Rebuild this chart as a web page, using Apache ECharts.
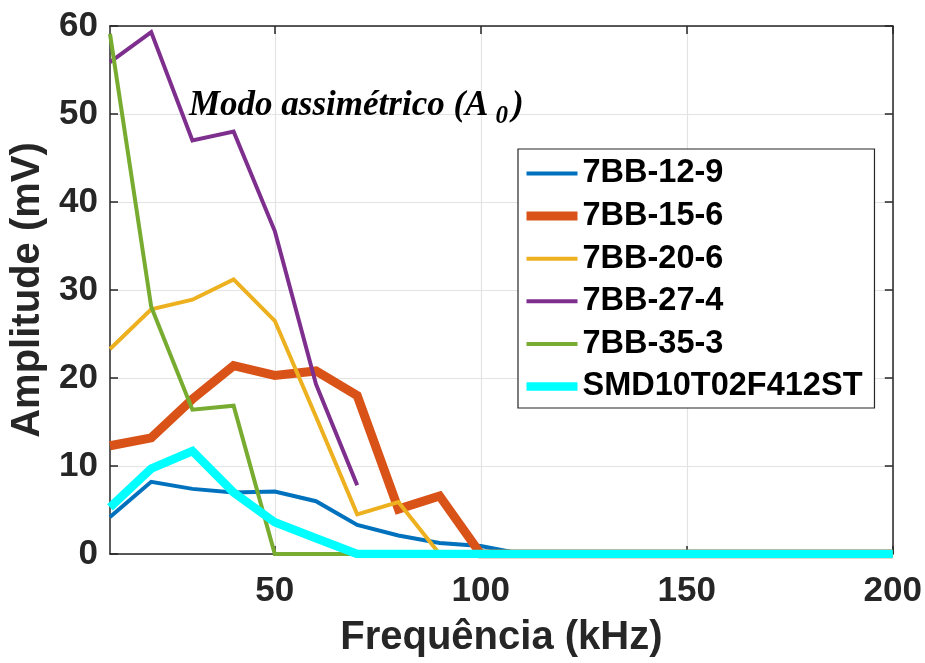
<!DOCTYPE html>
<html>
<head>
<meta charset="utf-8">
<script src="https://cdn.jsdelivr.net/npm/echarts@6/dist/echarts.min.js"></script>
<style>
  html, body { margin: 0; padding: 0; background: #fff; }
  #chart { width: 925px; height: 663px; }
</style>
</head>
<body>
<div id="chart"></div>
<script>
// Frequency sweep (kHz)
const frequencies = [10, 20, 30, 40, 50, 60, 70, 80, 90, 100, 110, 120, 130, 140, 150, 160, 170, 180, 190, 200];
const xTickValues = [50, 100, 150, 200];

// Amplitude (mV) per transducer
const s7BB_12_9 = [4.2, 8.2, 7.4, 7.0, 7.1, 6.0, 3.3, 2.1, 1.25, 0.9, 0, 0, 0, 0, 0, 0, 0, 0, 0, 0];
const s7BB_15_6 = [12.3, 13.2, 17.6, 21.4, 20.3, 20.8, 18.0, 5.1, 6.6, 0, 0, 0, 0, 0, 0, 0, 0, 0, 0, 0];
const s7BB_20_6 = [23.3, 27.8, 28.9, 31.2, 26.5, 15.6, 4.5, 5.9, 0, 0, 0, 0, 0, 0, 0, 0, 0, 0, 0, 0];
const s7BB_27_4 = [55.9, 59.3, 47.0, 48.0, 36.7, 19.3, 7.8];
const s7BB_35_3 = [59.1, 28.1, 16.4, 16.85, 0, 0, 0, 0, 0, 0, 0, 0, 0, 0, 0, 0, 0, 0, 0, 0];
const sSMD10T02F412ST = [5.3, 9.7, 11.7, 7.0, 3.6, 1.8, 0, 0, 0, 0, 0, 0, 0, 0, 0, 0, 0, 0, 0, 0];

const seriesDefs = [
  { name: '7BB-12-9', values: s7BB_12_9, color: '#0072BD', width: 4 },
  { name: '7BB-15-6', values: s7BB_15_6, color: '#D95319', width: 9 },
  { name: '7BB-20-6', values: s7BB_20_6, color: '#EDB120', width: 4 },
  { name: '7BB-27-4', values: s7BB_27_4, color: '#7E2F8E', width: 4 },
  { name: '7BB-35-3', values: s7BB_35_3, color: '#77AC30', width: 4 },
  { name: 'SMD10T02F412ST', values: sSMD10T02F412ST, color: '#00FFFF', width: 8.5 }
];

const axisColor = '#262626';
const gridColor = '#e3e3e3';
const fontFamily = '"Liberation Sans", Arial, sans-serif';
const serifFamily = '"Liberation Serif", "Times New Roman", serif';

const chart = echarts.init(document.getElementById('chart'), null, { renderer: 'canvas' });

const series = seriesDefs.map(d => ({
  name: d.name,
  type: 'line',
  data: d.values.map((v, i) => [frequencies[i], v]),
  showSymbol: false,
  symbol: 'none',
  animation: false,
  lineStyle: { color: d.color, width: d.width, join: 'miter' },
  itemStyle: { color: d.color },
  clip: true
}));

const option = {
  backgroundColor: '#fff',
  animation: false,
  grid: { left: 109, right: 32, top: 26, bottom: 108, containLabel: false },
  title: {
    text: '{a|Modo assimétrico (A}{s|0}{a|)}',
    left: 184,
    top: 77,
    textStyle: {
      rich: {
        a: { fontFamily: serifFamily, fontStyle: 'italic', fontWeight: 'bold', fontSize: 35, color: '#000' },
        s: { fontFamily: serifFamily, fontStyle: 'italic', fontWeight: 'bold', fontSize: 25, color: '#000', padding: [22, 4, 0, 7] }
      }
    }
  },
  legend: {
    show: true,
    orient: 'vertical',
    left: 518,
    top: 149,
    padding: [8, 12, 5, 4],
    backgroundColor: '#fff',
    borderColor: axisColor,
    borderWidth: 1.2,
    itemWidth: 51,
    itemHeight: 14,
    itemGap: 9.6,
    textStyle: { fontFamily: fontFamily, fontWeight: 'bold', fontSize: 32.5, color: '#000' },
    data: seriesDefs.map(d => ({
      name: d.name,
      lineStyle: { width: d.width, color: d.color },
      itemStyle: { opacity: 0 }
    }))
  },
  xAxis: [
    {
      type: 'value',
      min: 10,
      max: 200,
      name: 'Frequência (kHz)',
      nameLocation: 'middle',
      nameGap: 64,
      nameTextStyle: { fontFamily: fontFamily, fontWeight: 'bold', fontSize: 40, color: axisColor },
      axisLine: { show: true, onZero: false, lineStyle: { color: axisColor, width: 1.5 } },
      axisTick: { show: true, inside: true, length: 8, customValues: xTickValues, lineStyle: { color: axisColor, width: 1.5 } },
      axisLabel: { show: true, customValues: xTickValues, margin: 20, fontFamily: fontFamily, fontWeight: 'bold', fontSize: 35, color: axisColor },
      splitLine: { show: true, customValues: xTickValues, lineStyle: { color: gridColor, width: 1.2 } }
    },
    {
      type: 'value',
      position: 'top',
      min: 10,
      max: 200,
      axisLine: { show: true, onZero: false, lineStyle: { color: axisColor, width: 1.5 } },
      axisTick: { show: true, inside: true, length: 8, customValues: xTickValues, lineStyle: { color: axisColor, width: 1.5 } },
      axisLabel: { show: false },
      splitLine: { show: false }
    }
  ],
  yAxis: [
    {
      type: 'value',
      min: 0,
      max: 60,
      interval: 10,
      name: 'Amplitude (mV)',
      nameLocation: 'middle',
      nameGap: 62,
      nameTextStyle: { fontFamily: fontFamily, fontWeight: 'bold', fontSize: 40, color: axisColor },
      axisLine: { show: true, onZero: false, lineStyle: { color: axisColor, width: 1.5 } },
      axisTick: { show: true, inside: true, length: 8, lineStyle: { color: axisColor, width: 1.5 } },
      axisLabel: { show: true, margin: 12, fontFamily: fontFamily, fontWeight: 'bold', fontSize: 35, color: axisColor },
      splitLine: { show: true, lineStyle: { color: gridColor, width: 1.2 } }
    },
    {
      type: 'value',
      position: 'right',
      min: 0,
      max: 60,
      interval: 10,
      axisLine: { show: true, onZero: false, lineStyle: { color: axisColor, width: 1.5 } },
      axisTick: { show: true, inside: true, length: 8, lineStyle: { color: axisColor, width: 1.5 } },
      axisLabel: { show: false },
      splitLine: { show: false }
    }
  ],
  series: series
};

chart.setOption(option);
</script>
</body>
</html>
